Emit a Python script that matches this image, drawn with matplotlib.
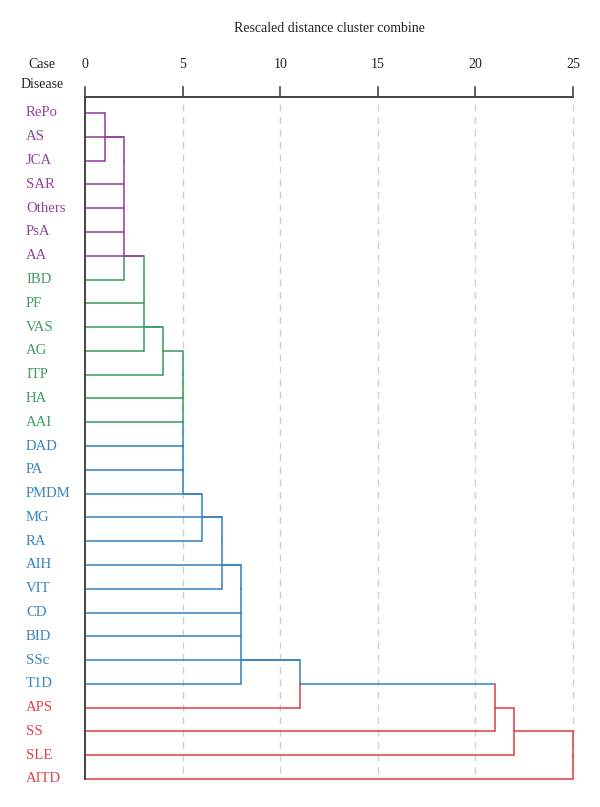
import matplotlib
matplotlib.use("Agg")
import matplotlib.pyplot as plt

# ---- data ----
diseases = ["RePo", "AS", "JCA", "SAR", "Others", "PsA", "AA", "IBD", "PF", "VAS",
            "AG", "ITP", "HA", "AAI", "DAD", "PA", "PMDM", "MG", "RA", "AIH",
            "VIT", "CD", "BID", "SSc", "T1D", "APS", "SS", "SLE", "AITD"]
groups = ["p"] * 7 + ["g"] * 7 + ["b"] * 11 + ["r"] * 4
# rescaled distance each leaf's own horizontal line reaches
leaf_reach = [1, 2, 1, 2, 2, 2, 3, 2, 3, 4,
              3, 4, 5, 5, 5, 5, 6, 7, 6, 8,
              7, 8, 8, 11, 8, 11, 21, 22, 25]
# merges: rescaled distance, first row, last row, row carrying the link upward
merge_height = [1, 2, 3, 4, 5, 6, 7, 8, 11, 21, 22, 25]
merge_top = [0, 1, 6, 9, 10, 16, 17, 19, 23, 24, 25, 26]
merge_bottom = [2, 7, 10, 11, 16, 18, 20, 24, 25, 26, 27, 28]
merge_link_row = [1, 6, 9, 10, 16, 17, 19, 23, 24, 25, 26, None]
x_ticks = [0, 5, 10, 15, 20, 25]

palette = {"p": "#93449a", "g": "#3e9e63", "b": "#3884c0", "r": "#e0434b"}
serif = ["Liberation Serif", "DejaVu Serif"]

W, H = 600, 807
fig = plt.figure(figsize=(W / 100, H / 100), dpi=100)
x0p, x1p, y_axis, y_top_row, y_bot_row = 85, 573, 97, 113, 779
row_h = (y_bot_row - y_top_row) / (len(diseases) - 1)
ytop_data = -(y_top_row - y_axis) / row_h
ax = fig.add_axes([x0p / W, 1 - y_bot_row / H, (x1p - x0p) / W, (y_bot_row - y_axis) / H])
ax.set_xlim(0, 25)
ax.set_ylim(len(diseases) - 1, ytop_data)
ax.axis("off")

lw = 1.15
# grid lines
for t in x_ticks[1:]:
    ax.plot([t, t], [ytop_data + 0.3, len(diseases) - 1], color="#cfcfcf", lw=1.0,
            dashes=(5, 4), zorder=1, clip_on=False)

# leaf horizontals
for i, r in enumerate(leaf_reach):
    ax.plot([0, r], [i, i], color=palette[groups[i]], lw=lw, zorder=3, clip_on=False,
            solid_capstyle="butt")

# merges
for k, h in enumerate(merge_height):
    top, bot = merge_top[k], merge_bottom[k]
    for r in range(top, bot):
        ax.plot([h, h], [r, r + 1], color=palette[groups[r + 1]], lw=lw, zorder=3,
                clip_on=False, solid_capstyle="projecting")
    lr = merge_link_row[k]
    if lr is not None:
        ax.plot([h, merge_height[k + 1]], [lr, lr], color=palette[groups[lr]], lw=lw,
                zorder=3, clip_on=False, solid_capstyle="butt")

# axis frame
ax.plot([0, 0], [ytop_data, len(diseases) - 1], color="#444444", lw=1.4, zorder=4, clip_on=False)
ax.plot([0, 25], [ytop_data, ytop_data], color="#444444", lw=1.4, zorder=4, clip_on=False)
tick_len = 10 / row_h
for t in x_ticks:
    ax.plot([t, t], [ytop_data, ytop_data - tick_len], color="#444444", lw=1.2,
            zorder=4, clip_on=False)
    ax.text(t, ytop_data - 32 / row_h, str(t), ha="center", va="center",
            fontsize=10, family=serif, color="#222222")

# labels
for i, name in enumerate(diseases):
    ax.text(-59 / 488 * 25, i, name, ha="left", va="center", fontsize=10.6,
            family=serif, color=palette[groups[i]])

fig.text(329 / W, 1 - 28 / H, "Rescaled distance cluster combine", ha="center",
         va="center", fontsize=10, family=serif, color="#222222")
fig.text(42 / W, 1 - 65 / H, "Case", ha="center", va="center", fontsize=10,
         family=serif, color="#222222")
fig.text(42 / W, 1 - 84 / H, "Disease", ha="center", va="center", fontsize=10,
         family=serif, color="#222222")

fig.savefig("out.png", dpi=100)
